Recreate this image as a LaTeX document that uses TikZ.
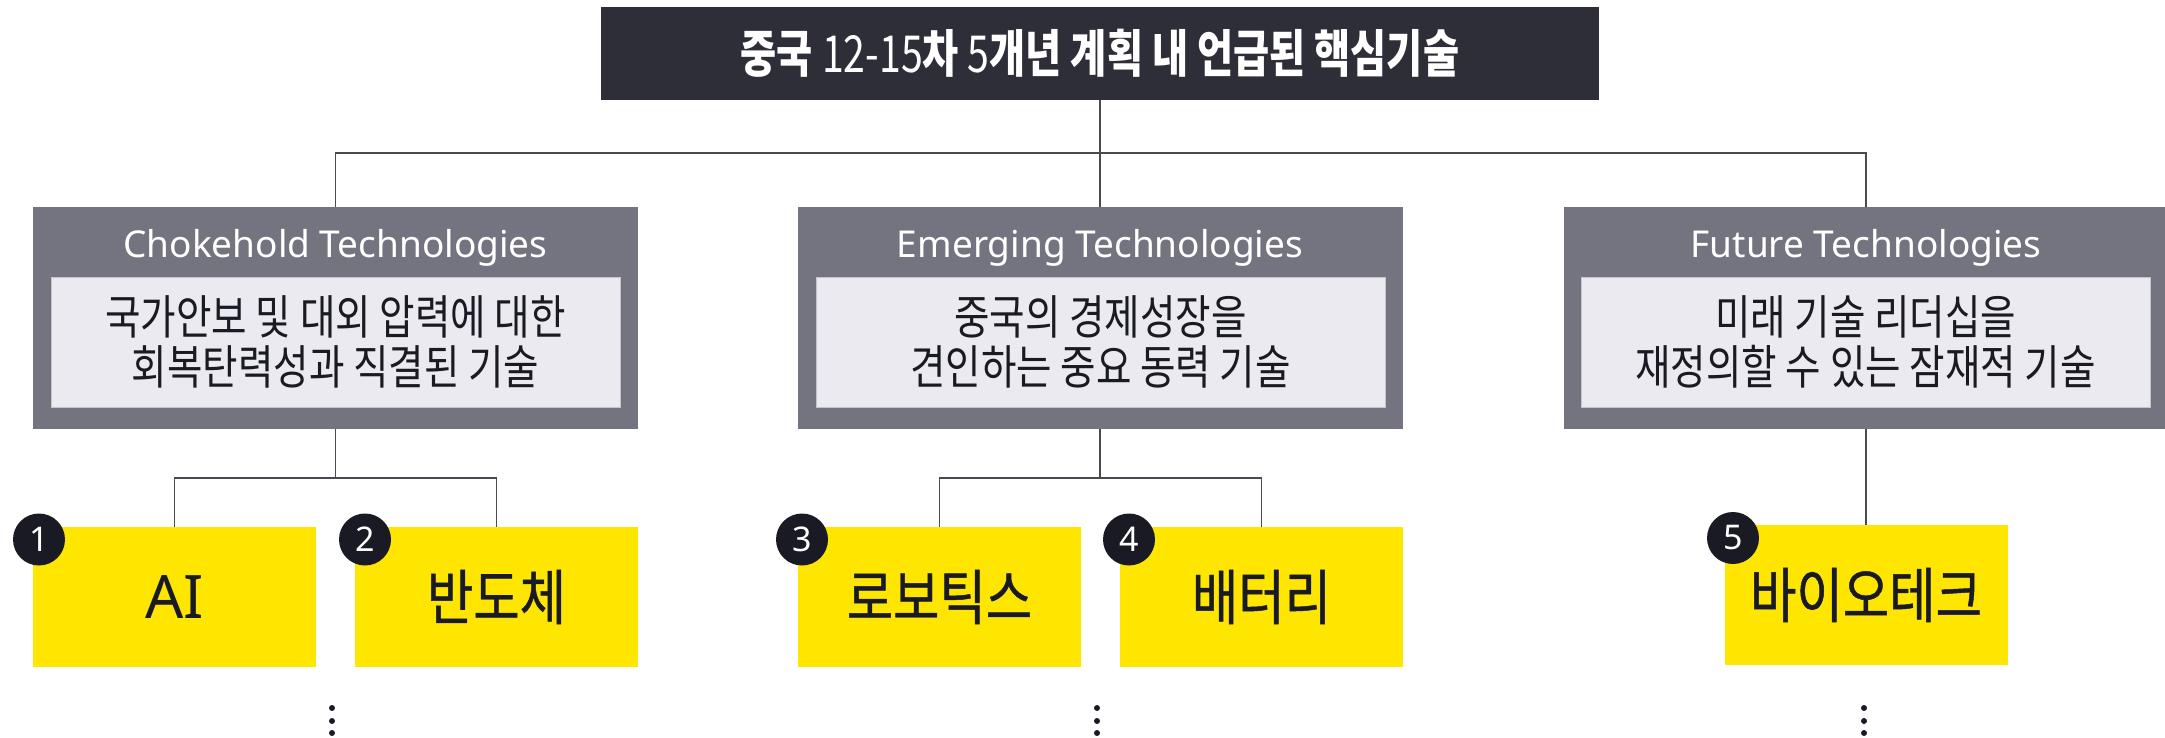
\documentclass[tikz,border=0pt]{standalone}
\usepackage{fontspec}
\newfontfamily\kr{Noto Sans CJK KR}[FakeStretch=0.82]
\newfontfamily\krt{Noto Sans CJK KR}[FakeStretch=0.77]
\newfontfamily\krm{Noto Sans CJK KR}[FakeStretch=0.84,FakeBold=0.8]
\newfontfamily\lat{Noto Sans}
\definecolor{eydark}{HTML}{2E2E38}
\definecolor{eygray}{HTML}{747480}
\definecolor{eylight}{HTML}{EAEAF0}
\definecolor{eyborder}{HTML}{C4C4CD}
\definecolor{eyyellow}{HTML}{FFE600}
\definecolor{eyblack}{HTML}{1A1A24}
\definecolor{eyline}{HTML}{4A4A52}
\tikzset{
  titlebox/.style={fill=eydark, minimum width=998pt, minimum height=93pt, inner sep=0pt, text=white,
    font=\krt\bfseries\fontsize{51}{58}\selectfont},
  catbox/.style={fill=eygray, minimum width=605pt, minimum height=222pt, inner sep=0pt},
  cattitle/.style={text=white, inner sep=0pt, anchor=base, font=\lat\fontsize{37}{44}\selectfont},
  descbox/.style={fill=eylight, draw=eyborder, line width=1pt, minimum width=569pt, minimum height=130pt,
    inner sep=0pt, align=center, text=eyblack, font=\kr\fontsize{47}{50}\selectfont},
  ybox/.style={fill=eyyellow, minimum width=283pt, minimum height=140pt, inner sep=0pt, text=eyblack,
    font=\krm\fontsize{60}{66}\selectfont},
  badge/.style={circle, fill=eyblack, minimum size=52pt, inner sep=0pt, text=white,
    font=\lat\fontsize{34}{40}\selectfont},
  conn/.style={draw=eyline, line width=1.4pt},
  dotmark/.style={circle, fill=eyblack, minimum size=6pt, inner sep=0pt}
}
\begin{document}
\begin{tikzpicture}[x=1pt, y=-1pt]
\useasboundingbox (0,0) rectangle (2165,738);
% title
\node[titlebox] (title) at (1100,53.5) {중국 {\mdseries 12-15}차 {\mdseries 5}개년 계획 내 언급된 핵심기술};
% category boxes
\node[catbox] (catA) at (335.5,318) {};
\node[catbox] (catB) at (1100,318) {};
\node[catbox] (catC) at (1866,318) {};
\node[cattitle] (ctA) at (335.5,257) {Chokehold Technologies};
\node[cattitle] (ctB) at (1100,257) {Emerging Technologies};
\node[cattitle] (ctC) at (1866,257) {Future Technologies};
\node[descbox] (dA) at (335.5,342) {국가안보 및 대외 압력에 대한\\회복탄력성과 직결된 기술};
\node[descbox] (dB) at (1100.5,342) {중국의 경제성장을\\견인하는 중요 동력 기술};
\node[descbox] (dC) at (1865.5,342) {미래 기술 리더십을\\재정의할 수 있는 잠재적 기술};
% top connectors
\coordinate (hub) at (1100,153);
\draw[conn] (title.south) -- (hub);
\draw[conn] (catA.north) -- (catA.north |- hub) -- (catC.north |- hub) -- (catC.north);
\draw[conn] (catB.north) -- (catB.north |- hub);
% technology boxes
\node[ybox] (t1) at (174.5,597) {\lat\mdseries AI};
\node[ybox] (t2) at (496.5,597) {반도체};
\node[ybox] (t3) at (939.5,597) {로보틱스};
\node[ybox] (t4) at (1261.5,597) {배터리};
\node[ybox] (t5) at (1866,595) {바이오테크};
% lower connectors
\coordinate (jA) at (335.5,478);
\coordinate (jB) at (1100,478);
\draw[conn] (catA.south) -- (jA);
\draw[conn] (t1.north) -- (t1.north |- jA) -- (t2.north |- jA) -- (t2.north);
\draw[conn] (catB.south) -- (jB);
\draw[conn] (t3.north) -- (t3.north |- jB) -- (t4.north |- jB) -- (t4.north);
\draw[conn] (catC.south) -- (t5.north);
% badges
\node[badge] (b1) at (39,539.5) {1};
\node[badge] (b2) at (365,539.5) {2};
\node[badge] (b3) at (802,539.5) {3};
\node[badge] (b4) at (1129,539.5) {4};
\node[badge] (b5) at (1733,538) {5};
% continuation dots
\foreach \n/\x in {A/332, B/1097, C/1864} {
  \node[dotmark] (\n d1) at (\x,708) {};
  \node[dotmark] (\n d2) at (\x,721) {};
  \node[dotmark] (\n d3) at (\x,733) {};
}
\end{tikzpicture}
\end{document}
